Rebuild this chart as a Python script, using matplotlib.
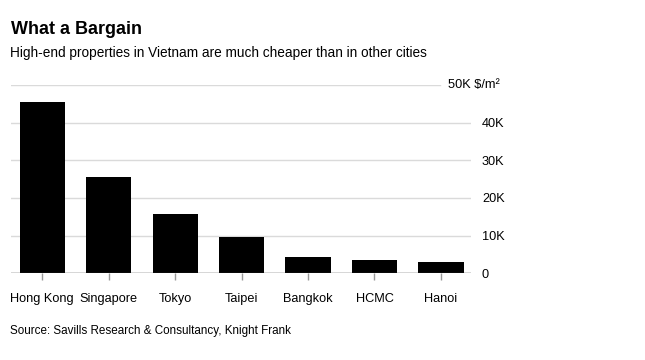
import matplotlib.pyplot as plt
import matplotlib.transforms as mtransforms

plt.rcParams['font.family'] = ['Liberation Sans', 'DejaVu Sans']

# data (US$ per square metre)
cities = ["Hong Kong", "Singapore", "Tokyo", "Taipei", "Bangkok", "HCMC", "Hanoi"]
prices = [45500, 25500, 15700, 9700, 4300, 3500, 3000]
yticks = [0, 10000, 20000, 30000, 40000, 50000]
ylabels = ["0", "10K", "20K", "30K", "40K", "50K $/m²"]

fig = plt.figure(figsize=(6.45, 3.6), dpi=100)
ax = fig.add_axes([0.017, 0.2408, 0.713, 0.5231])

x = range(len(cities))
ax.bar(x, prices, width=0.68, color="black", zorder=3)

# gridlines, the top one stops short of its label
for v in yticks[1:]:
    xmax = 0.933 if v == yticks[-1] else 1.0
    ax.axhline(v, xmin=0, xmax=xmax, color="#dadada", lw=1, zorder=1)
ax.axhline(0, color="#333333", lw=1, zorder=4)

ax.set_xlim(-0.47, 6.45)
ax.set_ylim(0, 50000)
ax.set_xticks(list(x))
ax.set_xticklabels(cities, fontsize=9.2)
ax.tick_params(axis="x", length=5, color="#999999", width=1, pad=9)

ax.yaxis.tick_right()
ax.set_yticks(yticks)
# top label is drawn separately, it ends where the two-digit labels end
ax.set_yticklabels(ylabels[:-1] + [""], fontsize=9.2)
ax.tick_params(axis="y", length=0, pad=8)
trans = mtransforms.blended_transform_factory(fig.transFigure, ax.transData)
ax.text(500 / 645, yticks[-1], ylabels[-1], transform=trans, fontsize=9.2,
        ha="right", va="center")

for s in ax.spines.values():
    s.set_visible(False)

fig.text(11 / 645, 1 - 29 / 360, "What a Bargain", fontsize=13, fontweight="bold",
         va="center", ha="left")
fig.text(10 / 645, 1 - 53.5 / 360,
         "High-end properties in Vietnam are much cheaper than in other cities",
         fontsize=9.8, va="center", ha="left")
fig.text(10 / 645, 1 - 331 / 360, "Source: Savills Research & Consultancy, Knight Frank",
         fontsize=8.4, va="center", ha="left")

fig.savefig("out.png", dpi=100)
